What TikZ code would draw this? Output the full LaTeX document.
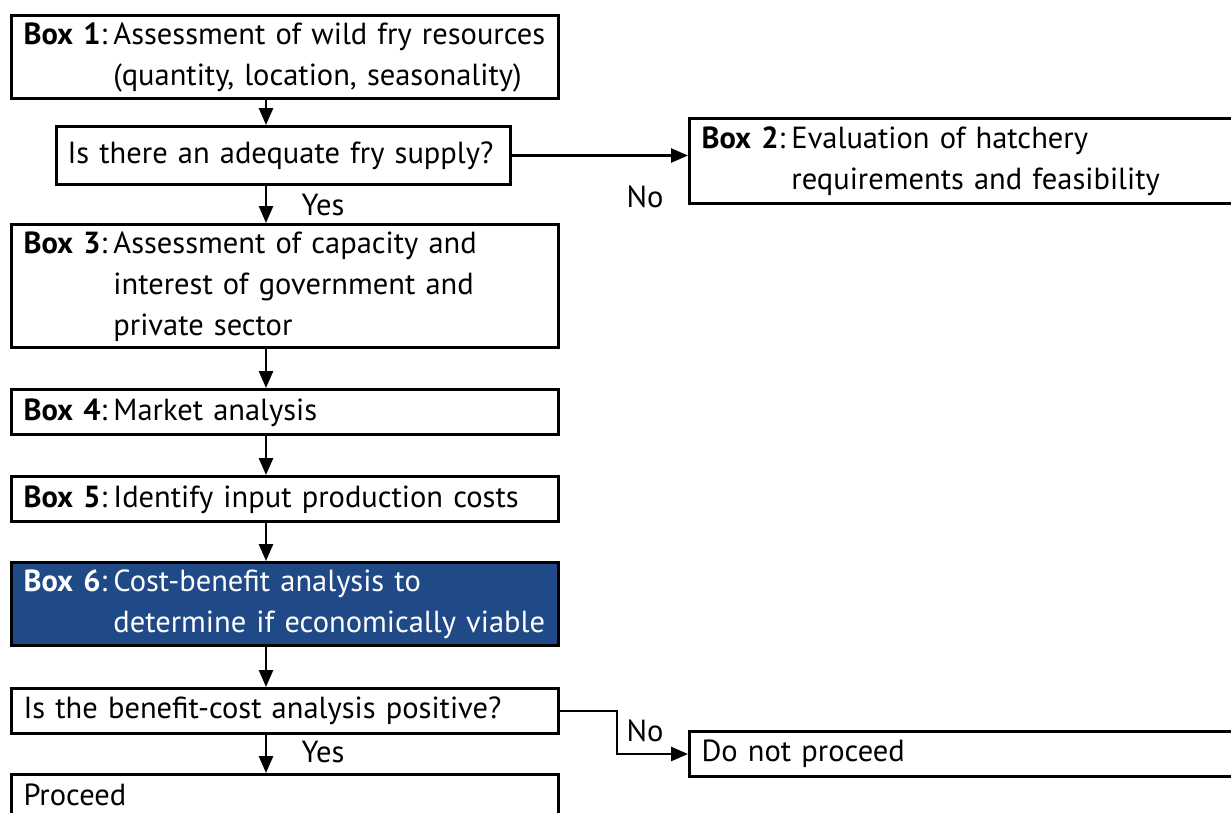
\documentclass[tikz,border=0pt]{standalone}
\usepackage{fontspec}
\setmainfont{PT Sans}
\usetikzlibrary{arrows.meta}
\definecolor{boxblue}{RGB}{31,74,135}
\newcommand\boxhead[2]{\begin{tabular}{@{}l@{}l@{}}\textbf{#1}:\kern0.2em & #2\end{tabular}}
\begin{document}
\begin{tikzpicture}[x=1pt,y=-1pt,
  flowbox/.style={draw=black, line width=3pt, anchor=north west,
    inner xsep=12pt, inner ysep=0pt, align=left,
    font=\fontsize{30.5}{41}\selectfont},
  arr/.style={line width=2.6pt, -{Triangle[length=17pt,width=14pt]}},
  lbl/.style={font=\fontsize{30.5}{41}\selectfont, inner sep=0pt}]
\useasboundingbox (0,0) rectangle (1231,812);
\clip (0,0) rectangle (1231,812);
\coordinate (spine) at (266,0);

% left column
\node[flowbox, minimum width=547pt, text width=523pt, minimum height=83pt] (b1) at (10,14)
  {\boxhead{Box 1}{Assessment of wild fry resources\\ & (quantity, location, seasonality)}};
\node[flowbox, minimum width=454pt, text width=432pt, inner xsep=11pt, minimum height=58pt] (q1) at (55,125)
  {Is there an adequate fry supply?};
\node[flowbox, minimum width=547pt, text width=523pt, minimum height=122pt] (b3) at (10,223)
  {\boxhead{Box 3}{Assessment of capacity and\\ & interest of government and\\ & private sector}};
\node[flowbox, minimum width=547pt, text width=523pt, minimum height=45pt] (b4) at (10,388)
  {\boxhead{Box 4}{Market analysis}};
\node[flowbox, minimum width=547pt, text width=523pt, minimum height=45pt] (b5) at (10,475)
  {\boxhead{Box 5}{Identify input production costs}};
\node[flowbox, fill=boxblue, text=white, minimum width=547pt, text width=523pt, minimum height=83pt] (b6) at (10,561)
  {\boxhead{Box 6}{Cost-benefit analysis to\\ & determine if economically viable}};
\node[flowbox, minimum width=547pt, text width=523pt, minimum height=45pt] (q2) at (10,687)
  {Is the benefit-cost analysis positive?};
\node[flowbox, minimum width=547pt, text width=523pt, minimum height=40pt] (pro) at (10,773)
  {Proceed};

% right column
\node[flowbox, minimum width=560pt, text width=536pt, minimum height=85pt] (b2) at (688,117)
  {\boxhead{Box 2}{Evaluation of hatchery\\ & requirements and feasibility}};
\node[flowbox, minimum width=560pt, text width=536pt, minimum height=45pt] (dnp) at (688,730)
  {Do not proceed};

% connectors
\draw[arr] (b1.south -| spine) -- (q1.north -| spine);
\draw[arr] (q1.south -| spine) -- (b3.north -| spine);
\draw[arr] (b3.south -| spine) -- (b4.north -| spine);
\draw[arr] (b4.south -| spine) -- (b5.north -| spine);
\draw[arr] (b5.south -| spine) -- (b6.north -| spine);
\draw[arr] (b6.south -| spine) -- (q2.north -| spine);
\draw[arr] (q2.south -| spine) -- (pro.north -| spine);
\draw[arr] (q1.east) -- (q1.east -| b2.west);
\draw[arr] (q2.east) -- ++(57,0) |- (dnp.west);

% branch labels
\node[lbl] (yes1) at (323,205) {Yes};
\node[lbl] (yes2) at (323,752) {Yes};
\node[lbl] (no1) at (645,197) {No};
\node[lbl] (no2) at (645,731) {No};
\end{tikzpicture}
\end{document}
